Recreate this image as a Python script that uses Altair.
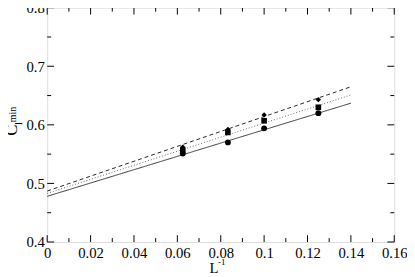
import altair as alt
import pandas as pd

# ---- data ----
inv_L = [0.0625, 0.0833, 0.1, 0.125]
circle_vals = [0.551, 0.570, 0.594, 0.620]
square_vals = [0.557, 0.587, 0.607, 0.630]
diamond_vals = [0.562, 0.592, 0.617, 0.643]

fit_x = [0.0, 0.14]
fit_solid = [0.478, 0.637]
fit_dotted = [0.483, 0.651]
fit_dashed = [0.487, 0.665]

x_major = [0.0, 0.02, 0.04, 0.06, 0.08, 0.10, 0.12, 0.14, 0.16]
x_minor = [0.01, 0.03, 0.05, 0.07, 0.09, 0.11, 0.13, 0.15]
y_major = [0.4, 0.5, 0.6, 0.7, 0.8]
y_minor = [0.45, 0.55, 0.65, 0.75]

W, H = 354, 239
FONT = "Liberation Serif"

pts = pd.DataFrame(
    [{"x": x, "y": y, "s": "circle"} for x, y in zip(inv_L, circle_vals)]
    + [{"x": x, "y": y, "s": "square"} for x, y in zip(inv_L, square_vals)]
    + [{"x": x, "y": y, "s": "diamond"} for x, y in zip(inv_L, diamond_vals)]
)
lines = pd.DataFrame(
    [{"x": x, "y": y, "s": "solid"} for x, y in zip(fit_x, fit_solid)]
    + [{"x": x, "y": y, "s": "dotted"} for x, y in zip(fit_x, fit_dotted)]
    + [{"x": x, "y": y, "s": "dashed"} for x, y in zip(fit_x, fit_dashed)]
)

xs = alt.Scale(domain=[0, 0.16], nice=False, zero=False)
ys = alt.Scale(domain=[0.4, 0.8], nice=False, zero=False)
xaxis = alt.Axis(values=x_major, format="~g", ticks=False, domain=False, grid=False,
                 labelFont=FONT, labelFontSize=15, labelColor="black", labelPadding=4,
                 labelFlush=False, labelOverlap=False)
yaxis = alt.Axis(values=y_major, format="~g", ticks=False, domain=False, grid=False,
                 labelFont=FONT, labelFontSize=15, labelColor="black", labelPadding=3,
                 labelFlush=False, labelOverlap=False)


def X(f):
    return alt.X(f, type="quantitative", scale=xs, axis=xaxis, title=None)


def Y(f):
    return alt.Y(f, type="quantitative", scale=ys, axis=yaxis, title=None)


line_layer = alt.Chart(lines).mark_line(strokeWidth=1).encode(
    x=X("x"), y=Y("y"),
    detail="s:N",
    strokeDash=alt.StrokeDash("s:N", scale=alt.Scale(domain=["solid", "dotted", "dashed"],
                                                      range=[[1, 0], [1, 2], [4, 3]]), legend=None),
    color=alt.Color("s:N", scale=alt.Scale(domain=["solid", "dotted", "dashed"],
                                           range=["#333333", "#666666", "#222222"]), legend=None),
)

point_layer = alt.Chart(pts).mark_point(filled=True, opacity=1, color="black").encode(
    x=X("x"), y=Y("y"),
    shape=alt.Shape("s:N", scale=alt.Scale(domain=["circle", "square", "diamond"],
                                           range=["circle", "square", "diamond"]), legend=None),
    size=alt.Size("s:N", scale=alt.Scale(domain=["circle", "square", "diamond"],
                                         range=[36, 30, 45]), legend=None),
)


def xticks(vals, length):
    d = pd.DataFrame({"v": vals})
    bot = alt.Chart(d).mark_rule(color="black", strokeWidth=1).encode(
        x=X("v"), y=alt.value(H), y2=alt.value(H - length))
    top = alt.Chart(d).mark_rule(color="black", strokeWidth=1).encode(
        x=X("v"), y=alt.value(0), y2=alt.value(length))
    return [bot, top]


def yticks(vals, length):
    d = pd.DataFrame({"v": vals})
    left = alt.Chart(d).mark_rule(color="black", strokeWidth=1).encode(
        y=Y("v"), x=alt.value(0), x2=alt.value(length))
    right = alt.Chart(d).mark_rule(color="black", strokeWidth=1).encode(
        y=Y("v"), x=alt.value(W), x2=alt.value(W - length))
    return [left, right]


def txt(t, px, py, size, angle=0):
    return alt.Chart(pd.DataFrame({"t": [t]})).mark_text(
        font=FONT, fontSize=size, color="black", angle=angle,
        align="center", baseline="middle").encode(
        text="t:N", x=alt.value(px), y=alt.value(py))


layers = (xticks(x_major, 7) + xticks(x_minor, 4) + yticks(y_major, 7) + yticks(y_minor, 4)
          + [line_layer, point_layer,
             txt("C", -35.5, 125, 17, 270),
             txt("l", -29, 118, 11, 270),
             txt("min", -34.5, 109, 10, 270),
             txt("L", 170, 265.5, 15),
             txt("-1", 178, 259.5, 9)])

chart = alt.layer(*layers).properties(
    width=W, height=H,
    autosize=alt.AutoSizeParams(type="none"),
    padding={"left": 40, "top": -3, "right": 13, "bottom": 33},
).configure_view(stroke="black", strokeWidth=1).configure(background="white")

chart.save("out.html", embed_options={"renderer": "svg", "actions": False})
